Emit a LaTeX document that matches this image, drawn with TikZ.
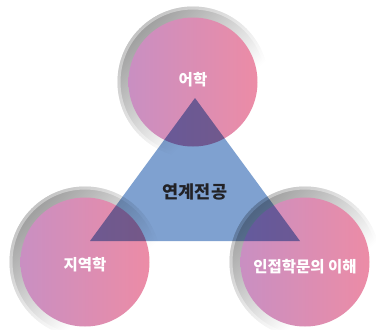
\documentclass[tikz,border=0pt]{standalone}
\usepackage{fontspec}
\newfontfamily\kr{Noto Sans CJK KR}
\definecolor{pinkL}{RGB}{201,143,194}
\definecolor{pinkR}{RGB}{236,140,166}
\definecolor{triblue}{RGB}{127,161,208}
\definecolor{ringgray}{RGB}{158,158,158}
\definecolor{coretext}{RGB}{34,34,38}
\pgfdeclareverticalshading{ringshade}{100bp}{color(0bp)=(white); color(38bp)=(white); color(75bp)=(ringgray); color(100bp)=(ringgray)}
\tikzset{
	ring/.style={circle,minimum size=151pt,inner sep=0pt,shading=ringshade,shading angle=45},
	ringedge/.style={draw=white,draw opacity=.4,line width=3pt,circle,minimum size=148pt,inner sep=0pt},
	disc/.style={circle,minimum size=129pt,inner sep=0pt,left color=pinkL,right color=pinkR},
	disclabel/.style={text=white,font=\kr\bfseries\fontsize{15.5}{18}\selectfont},
}
\begin{document}
\begin{tikzpicture}[x=1pt,y=-1pt,line join=round]
	\def\cx{193} \def\lx{85} \def\rx{305}
	\def\ty{82} \def\by{262}
	\useasboundingbox (0,0) rectangle (376,330);
	\clip (0,0) rectangle (376,330);
	\node[ring] (langring) at (\cx,\ty) {};
	\node[ring] (arearing) at (\lx,\by) {};
	\node[ring] (nearring) at (\rx,\by) {};
	\node[ringedge] at (\cx,\ty) {};
	\node[ringedge] at (\lx,\by) {};
	\node[ringedge] at (\rx,\by) {};
	\node[disc] (lang) at (\cx,\ty) {};
	\node[disc] (area) at (\lx,\by) {};
	\node[disc] (near) at (\rx,\by) {};
	\fill[triblue,blend mode=multiply] (195,98) -- (300,241) -- (90,241) -- cycle;
	\node[disclabel] (langtext) at (\cx,80) {어학};
	\node[disclabel] (areatext) at (\lx,265) {지역학};
	\node[disclabel] (neartext) at (\rx,267) {인접학문의 이해};
	\node[text=coretext,font=\kr\bfseries\fontsize{17.5}{20}\selectfont] (core) at (195,192) {연계전공};
\end{tikzpicture}
\end{document}
